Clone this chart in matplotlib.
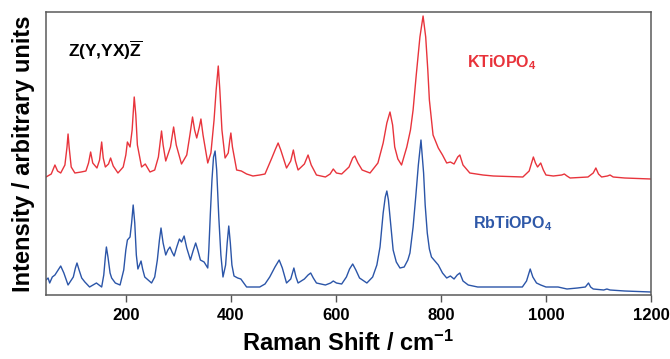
import matplotlib
matplotlib.use("Agg")
import matplotlib.pyplot as plt

# points: Raman shift (cm-1) and intensity (arb. units)
ktp_shift = [48, 58, 65, 70, 76, 84, 88, 90, 92, 96, 103, 115, 124, 129, 133, 137, 145,
             150, 154, 157, 161, 167, 171, 176, 185, 195, 200, 203, 208, 212, 216, 219,
             222, 230, 237, 246, 255, 262, 266, 268, 271, 276, 285, 291, 296, 306, 316,
             322, 327, 331, 335, 340, 343, 347, 356, 362, 368, 372, 376, 379, 383, 389,
             395, 398, 400, 403, 411, 420, 430, 442, 455, 465, 478, 485, 490, 495, 506,
             514, 519, 523, 528, 540, 547, 553, 563, 580, 589, 595, 601, 611, 625, 632,
             636, 642, 650, 665, 680, 690, 697, 703, 708, 712, 718, 725, 735, 742, 747,
             753, 760, 766, 771, 775, 778, 785, 795, 803, 811, 818, 825, 832, 836, 842,
             855, 880, 900, 956, 968, 976, 980, 984, 990, 995, 1000, 1014, 1030, 1035,
             1040, 1046, 1080, 1090, 1095, 1100, 1106, 1117, 1122, 1128, 1150, 1200]
ktp_int = [118, 121, 130, 124, 122, 130, 148, 161, 148, 128, 122, 123, 124, 132, 143, 132, 127,
           135, 153, 137, 128, 131, 137, 129, 122, 128, 140, 153, 148, 165, 198, 180,
           150, 128, 131, 123, 125, 138, 155, 164, 150, 134, 148, 168, 150, 131, 140,
           160, 178, 165, 157, 168, 176, 160, 132, 142, 175, 205, 229, 205, 165, 137,
           142, 155, 162, 148, 125, 124, 121, 119, 120, 121, 137, 146, 152, 145, 127,
           134, 145, 134, 125, 131, 140, 130, 120, 118, 121, 126, 122, 121, 128, 137,
           139, 132, 125, 122, 132, 152, 172, 183, 170, 148, 136, 130, 148, 165, 185,
           220, 258, 279, 258, 225, 195, 160, 147, 140, 132, 133, 131, 138, 140, 130,
           122, 120, 119, 118, 124, 138, 132, 128, 132, 125, 120, 119, 120, 121,
           119, 117, 118, 122, 127, 121, 118, 119, 120, 118, 117, 116]

rtp_shift = [48, 52, 55, 60, 65, 71, 76, 82, 90, 100, 104, 107, 111, 116, 122, 131, 144,
             149, 154, 158, 161, 163, 166, 170, 173, 180, 189, 196, 200, 203, 208, 211,
             214, 217, 220, 223, 226, 229, 232, 236, 249, 255, 260, 264, 267, 271, 276,
             280, 284, 288, 292, 297, 302, 306, 311, 316, 323, 328, 333, 337, 342, 349,
             356, 358, 361, 364, 367, 370, 373, 377, 381, 385, 390, 393, 396, 399, 402,
             406, 413, 419, 430, 455, 465, 474, 484, 492, 498, 506, 514, 520, 524, 528,
             540, 547, 552, 557, 563, 580, 590, 595, 601, 611, 620, 626, 632, 638, 645,
             659, 670, 678, 684, 690, 694, 697, 700, 703, 706, 709, 715, 722, 730, 737,
             741, 747, 752, 757, 762, 767, 770, 774, 778, 782, 795, 803, 811, 818, 825,
             831, 836, 842, 852, 870, 900, 955, 963, 970, 975, 982, 990, 1000, 1023,
             1040, 1060, 1075, 1081, 1085, 1090, 1110, 1116, 1122, 1150, 1200]
rtp_int = [15, 17, 12, 18, 20, 25, 29, 22, 10, 18, 27, 32, 25, 17, 13, 8, 12,
           10, 8, 20, 38, 48, 38, 22, 17, 12, 10, 25, 45, 55, 58, 72,
           90, 72, 40, 26, 30, 34, 26, 18, 12, 18, 35, 55, 67, 52, 40,
           45, 48, 43, 39, 48, 56, 53, 59, 47, 35, 44, 52, 45, 35, 33,
           27, 45, 82, 115, 138, 144, 125, 78, 40, 18, 30, 52, 69, 52, 30,
           19, 17, 16, 8, 8, 11, 18, 28, 35, 27, 12, 16, 27, 18, 12,
           16, 20, 22, 17, 12, 10, 12, 14, 12, 11, 18, 26, 31, 25, 17,
           12, 18, 30, 48, 82, 98, 104, 95, 78, 60, 45, 33, 27, 28, 35,
           42, 68, 98, 130, 155, 122, 90, 62, 46, 38, 30, 22, 17, 19, 16,
           20, 22, 14, 10, 8, 8, 8, 14, 26, 18, 12, 10, 8, 8,
           6, 7, 8, 12, 8, 6, 5, 6, 5, 4, 3]

xticks = [200, 400, 600, 800, 1000, 1200]

plt.rcParams['font.family'] = ['Liberation Sans', 'DejaVu Sans']
plt.rcParams['mathtext.fontset'] = 'custom'
plt.rcParams['mathtext.rm'] = 'Liberation Sans:bold'
plt.rcParams['mathtext.bf'] = 'Liberation Sans:bold'
plt.rcParams['mathtext.it'] = 'Liberation Sans:bold'

fig = plt.figure(figsize=(6.7, 3.59), dpi=100)
ax = fig.add_axes([46 / 670, 64 / 359, 605 / 670, 283 / 359])

ax.plot(ktp_shift, ktp_int, color='#e8343c', lw=1.0)
ax.plot(rtp_shift, rtp_int, color='#2b55a8', lw=1.0)

ax.set_xlim(48, 1200)
ax.set_ylim(0, 283)
ax.set_xticks(xticks)
ax.set_xticklabels([str(t) for t in xticks], fontsize=12, fontweight='bold')
ax.set_yticks([])
ax.tick_params(axis='x', direction='out', length=5, width=1, color='#555555', pad=4)
for s in ax.spines.values():
    s.set_color('#5a5a5a')
    s.set_linewidth(1.1)

ax.set_xlabel('Raman Shift / cm$^{-1}$', fontsize=17, fontweight='bold', labelpad=6)
ax.set_ylabel('Intensity / arbitrary units', fontsize=17, fontweight='bold', labelpad=8)

ax.text(89, 245, r'Z(Y,YX)$\overline{\mathbf{Z}}$', fontsize=12.5, fontweight='bold',
        va='center', ha='left')
ax.text(850, 232, r'KTiOPO$_{4}$', fontsize=11.5, fontweight='bold',
        color='#e8323a', va='center', ha='left')
ax.text(861, 71, r'RbTiOPO$_{4}$', fontsize=11.5, fontweight='bold',
        color='#2e58a8', va='center', ha='left')

fig.savefig('out.png', dpi=100)
